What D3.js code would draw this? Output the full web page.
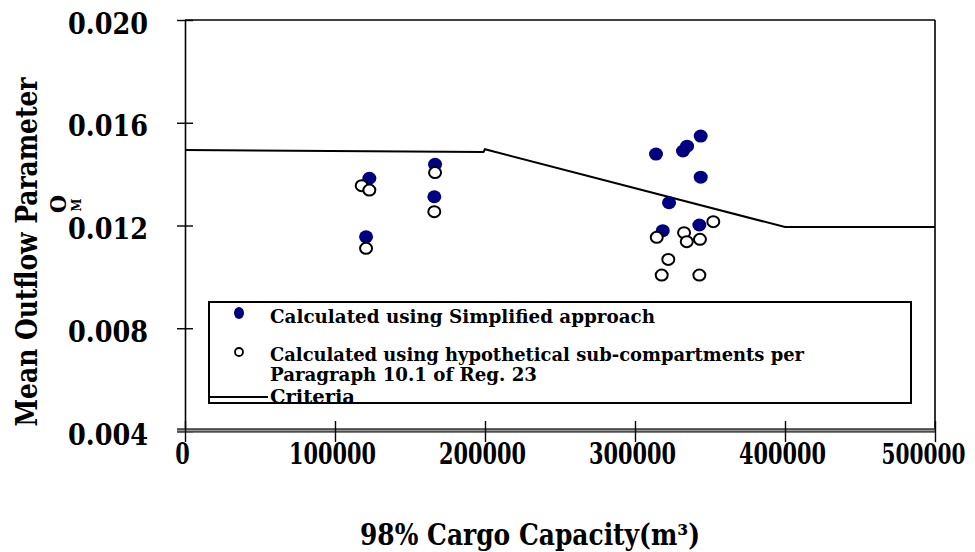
<!DOCTYPE html>
<html><head><meta charset="utf-8">
<script src="https://cdn.jsdelivr.net/npm/d3@7"></script>
<style>
body{margin:0;background:#fff;}
svg text{font-family:"DejaVu Serif",serif;font-stretch:condensed;font-weight:bold;fill:#000;}
</style></head>
<body><div id="chart"></div>
<script>
// ---- data ----
const xTicks = [0, 100000, 200000, 300000, 400000, 500000];
const xTickLabels = ["0", "100000", "200000", "300000", "400000", "500000"];
const yTicks = [0.004, 0.008, 0.012, 0.016, 0.020];
const yTickLabels = ["0.004", "0.008", "0.012", "0.016", "0.020"];

const simplifiedX = [122900, 120700, 166700, 166200, 314000, 332000, 334700, 343800, 343800, 322700, 318500, 342900];
const simplifiedY = [0.01384, 0.01156, 0.01438, 0.01312, 0.01478, 0.01490, 0.01509, 0.01548, 0.01388, 0.01289, 0.01180, 0.01202];

const hypoX = [117800, 122900, 120700, 166700, 166200, 352200, 314500, 332700, 334500, 343300, 322200, 317800, 342900];
const hypoY = [0.01355, 0.01338, 0.01111, 0.01406, 0.01254, 0.01215, 0.01154, 0.01172, 0.01137, 0.01146, 0.01068, 0.01007, 0.01007];

const criteriaX = [0, 199000, 200000, 400000, 500000];
const criteriaY = [0.01494, 0.01486, 0.01497, 0.01194, 0.01194];

const legendLabels = [
  "Calculated using Simplified approach",
  "Calculated using hypothetical sub-compartments per",
  "Paragraph 10.1 of Reg. 23",
  "Criteria"
];

// ---- chart ----
const W = 975, H = 552;
const svg = d3.select("#chart").append("svg").attr("width", W).attr("height", H);

const x = d3.scaleLinear().domain([0, 500000]).range([185, 935]);
const y = d3.scaleLinear().domain([0.004, 0.020]).range([431, 20]);

// plot frame (top & right)
svg.append("line").attr("x1", x(0)).attr("x2", x(500000)).attr("y1", y(0.020)).attr("y2", y(0.020))
  .attr("stroke", "#000").attr("stroke-width", 1.6);
svg.append("line").attr("x1", x(500000)).attr("x2", x(500000)).attr("y1", y(0.020)).attr("y2", y(0.004))
  .attr("stroke", "#000").attr("stroke-width", 1.6);

// y axis
const yAxis = d3.axisLeft(y).tickValues(yTicks).tickSize(8).tickSizeOuter(0)
  .tickFormat((d, i) => yTickLabels[i]);
const gy = svg.append("g").attr("transform", `translate(${x(0)},0)`).call(yAxis);
gy.select(".domain").attr("stroke", "#000").attr("stroke-width", 1.6);
gy.selectAll(".tick line").attr("x1", 8).attr("x2", -8).attr("stroke", "#000").attr("stroke-width", 1.4);
gy.selectAll(".tick text").attr("x", -37).attr("dy", null).attr("y", 13)
  .attr("font-size", 29).attr("text-anchor", "end")
  .attr("textLength", 80).attr("lengthAdjust", "spacingAndGlyphs");

// x axis (double line)
const gxBase = svg.append("g");
gxBase.append("rect").attr("x", x(0) - 8).attr("y", y(0.004) - 2.5).attr("width", x(500000) - x(0) + 8).attr("height", 3.5)
  .attr("fill", "#999");
gxBase.append("line").attr("x1", x(0) - 8).attr("x2", x(500000)).attr("y1", y(0.004) - 2).attr("y2", y(0.004) - 2)
  .attr("stroke", "#000").attr("stroke-width", 1.2);
gxBase.append("line").attr("x1", x(0) - 8).attr("x2", x(500000)).attr("y1", y(0.004) + 1).attr("y2", y(0.004) + 1)
  .attr("stroke", "#000").attr("stroke-width", 1.2);

const xAxis = d3.axisBottom(x).tickValues(xTicks).tickSize(10).tickSizeOuter(0)
  .tickFormat((d, i) => xTickLabels[i]);
const gx = svg.append("g").attr("transform", `translate(0,${y(0.004)})`).call(xAxis);
gx.select(".domain").remove();
gx.selectAll(".tick line").attr("y1", -10).attr("y2", 11).attr("stroke", "#000").attr("stroke-width", 1.4);
gx.selectAll(".tick text").attr("dy", null).attr("y", 33)
  .each(function(d, i) {
    const last = i === xTickLabels.length - 1;
    const w = xTickLabels[i].length * (last ? 14 : 14.5);
    const t = d3.select(this).attr("font-size", last ? 27 : 29)
      .attr("textLength", w).attr("lengthAdjust", "spacingAndGlyphs");
    if (last) t.attr("text-anchor", "end").attr("x", 30);
    else t.attr("x", -3);
  });

// axis titles
svg.append("text").attr("x", 530).attr("y", 545).attr("text-anchor", "middle").attr("font-size", 29)
  .attr("textLength", 340).attr("lengthAdjust", "spacingAndGlyphs")
  .text("98% Cargo Capacity(m³)");

svg.append("text").attr("transform", "translate(37,252) rotate(-90)").attr("text-anchor", "middle")
  .attr("font-size", 29).attr("textLength", 349).attr("lengthAdjust", "spacingAndGlyphs")
  .text("Mean Outflow Parameter");
svg.append("text").attr("transform", "translate(66,204) rotate(-90)").attr("text-anchor", "middle")
  .attr("font-size", 23).text("O");
svg.append("text").attr("transform", "translate(81,205) rotate(-90)").attr("text-anchor", "middle")
  .attr("font-size", 13).attr("font-weight", "normal").text("M");

// criteria line
const crit = criteriaX.map((d, i) => [d, criteriaY[i]]);
svg.append("path").datum(crit)
  .attr("d", d3.line().x(d => x(d[0])).y(d => y(d[1])))
  .attr("fill", "none").attr("stroke", "#000").attr("stroke-width", 2);

// points
const simp = simplifiedX.map((d, i) => [d, simplifiedY[i]]);
const hypo = hypoX.map((d, i) => [d, hypoY[i]]);
svg.append("g").selectAll("ellipse").data(simp).join("ellipse")
  .attr("cx", d => x(d[0])).attr("cy", d => y(d[1])).attr("rx", 7).attr("ry", 6.5)
  .attr("fill", "#000080");
svg.append("g").selectAll("ellipse").data(hypo).join("ellipse")
  .attr("cx", d => x(d[0])).attr("cy", d => y(d[1])).attr("rx", 6).attr("ry", 5.5)
  .attr("fill", "#fff").attr("stroke", "#000").attr("stroke-width", 2);

// legend
const lg = svg.append("g");
lg.append("rect").attr("x", 209).attr("y", 302).attr("width", 702).attr("height", 101)
  .attr("fill", "#fff").attr("stroke", "#000").attr("stroke-width", 2);
lg.append("ellipse").attr("cx", 239).attr("cy", 313).attr("rx", 5).attr("ry", 6).attr("fill", "#000080");
lg.append("circle").attr("cx", 239).attr("cy", 352).attr("r", 4).attr("fill", "#fff")
  .attr("stroke", "#000").attr("stroke-width", 1.8);
lg.append("line").attr("x1", 210).attr("x2", 268).attr("y1", 397).attr("y2", 397)
  .attr("stroke", "#000").attr("stroke-width", 2);
const legY = [323, 361, 381, 403];
const legW = [385, 534, 267, 85];
legendLabels.forEach((t, i) => {
  lg.append("text").attr("x", 270).attr("y", legY[i]).attr("font-size", 18).attr("font-weight", "normal")
    .attr("textLength", legW[i]).attr("lengthAdjust", "spacingAndGlyphs").text(t);
});
</script>
</body></html>
